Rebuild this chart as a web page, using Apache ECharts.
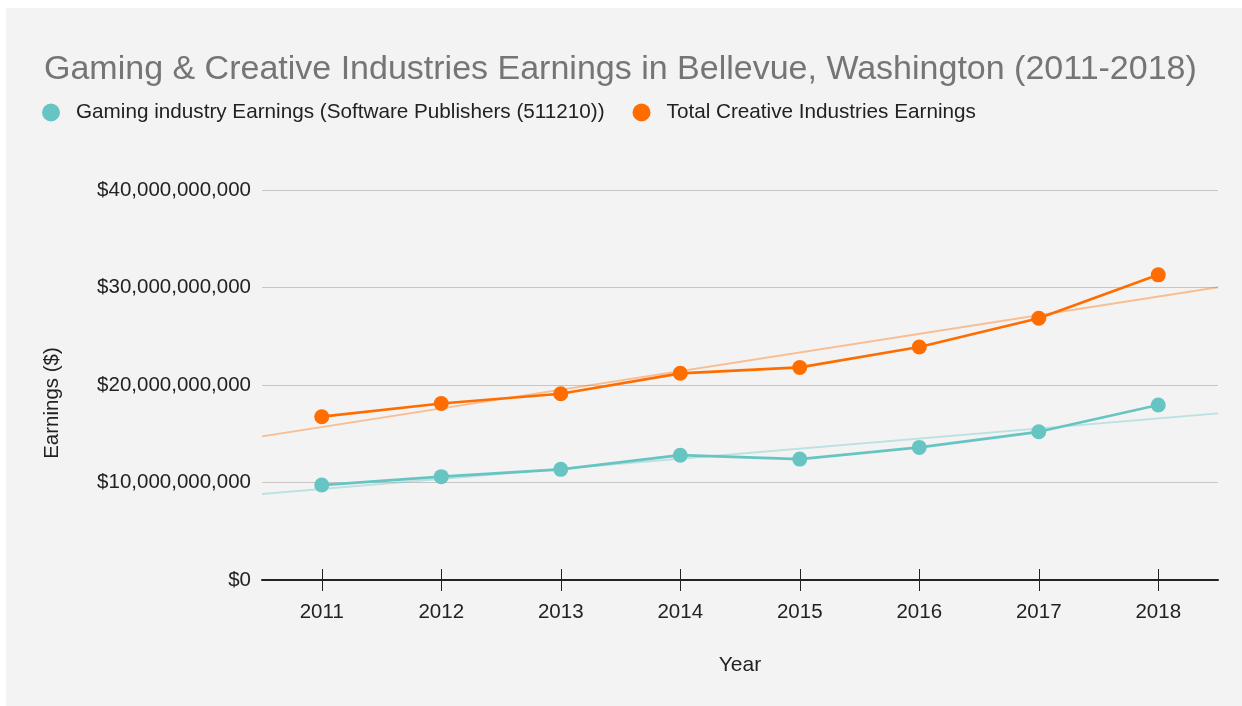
<!DOCTYPE html>
<html>
<head>
<meta charset="utf-8">
<script src="https://cdn.jsdelivr.net/npm/echarts@6/dist/echarts.min.js"></script>
<style>
    html, body { margin: 0; padding: 0; background: #ffffff; }
    #chart { position: absolute; left: 6px; top: 8px; width: 1236px; height: 698px; background: #f3f3f3; }
</style>
</head>
<body>
<div id="chart"></div>
<script>
'use strict';

// data
var years = ['2011', '2012', '2013', '2014', '2015', '2016', '2017', '2018'];
var gamingEarnings = [9.74e9, 10.6e9, 11.35e9, 12.8e9, 12.4e9, 13.6e9, 15.2e9, 17.95e9];
var creativeEarnings = [16.75e9, 18.1e9, 19.1e9, 21.2e9, 21.8e9, 23.9e9, 26.85e9, 31.3e9];
// trend line values at the left and right edges of the plot
var trendX = [2010.5, 2018.5];
var gamingTrend = [8.82e9, 17.09e9];
var creativeTrend = [14.73e9, 30.02e9];
var yTicks = [0, 10e9, 20e9, 30e9, 40e9];

var font = '"Liberation Sans", Arial, sans-serif';
var cyan = '#66c5c3';
var orange = '#ff6d01';

function pairs(xs, ys) {
    var out = [];
    for (var i = 0; i < xs.length; i++) {
        out.push([xs[i], ys[i]]);
    }
    return out;
}

var chart = echarts.init(document.getElementById('chart'));

chart.setOption({
    animation: false,
    backgroundColor: '#f3f3f3',
    textStyle: { fontFamily: font },
    title: {
        text: 'Gaming & Creative Industries Earnings in Bellevue, Washington (2011-2018)',
        left: 33,
        top: 40,
        textStyle: { fontSize: 34, fontWeight: 'normal', color: '#757575', fontFamily: font }
    },
    legend: {
        left: 31,
        top: 89,
        icon: 'circle',
        itemWidth: 18,
        itemHeight: 18,
        itemGap: 28,
        data: ['Gaming industry Earnings (Software Publishers (511210))', 'Total Creative Industries Earnings'],
        textStyle: { fontSize: 20.7, color: '#222222', fontFamily: font, padding: [0, 0, 0, 11] }
    },
    grid: { left: 256, right: 24, top: 182, bottom: 126, containLabel: false },
    xAxis: [{
        type: 'category',
        data: years,
        boundaryGap: true,
        position: 'bottom',
        name: 'Year',
        nameLocation: 'middle',
        nameGap: 75,
        nameTextStyle: { fontSize: 21, color: '#222222', fontFamily: font },
        axisLine: { show: true, lineStyle: { color: '#222222', width: 2 } },
        axisTick: { show: true, interval: 0, alignWithLabel: true, length: 11, lineStyle: { color: '#222222', width: 1 } },
        axisLabel: { fontSize: 20.5, color: '#222222', margin: 22, fontFamily: font },
        splitLine: { show: false }
    }, {
        // second copy of the category axis, only to draw the upper half of the ticks
        type: 'category',
        data: years,
        boundaryGap: true,
        position: 'bottom',
        offset: 0,
        axisLine: { show: false },
        axisTick: { show: true, interval: 0, inside: true, alignWithLabel: true, length: 11, lineStyle: { color: '#222222', width: 1 } },
        axisLabel: { show: false },
        splitLine: { show: false }
    }, {
        // hidden value axis spanning the plot edges, for the trend lines
        type: 'value',
        min: trendX[0],
        max: trendX[1],
        show: false
    }],
    yAxis: {
        type: 'value',
        min: yTicks[0],
        max: yTicks[yTicks.length - 1],
        interval: yTicks[1] - yTicks[0],
        axisLine: { show: false },
        axisTick: { show: false },
        axisLabel: {
            fontSize: 20.5,
            color: '#222222',
            margin: 11,
            fontFamily: font,
            formatter: function (v) {
                return '$' + Number(v).toLocaleString('en-US');
            }
        },
        splitLine: { lineStyle: { color: '#c6c6c6', width: 1 } }
    },
    graphic: [{
        type: 'text',
        x: 46,
        y: 395,
        rotation: Math.PI / 2,
        style: {
            text: 'Earnings ($)',
            fontSize: 20.5,
            fill: '#222222',
            fontFamily: font,
            align: 'center',
            verticalAlign: 'middle'
        }
    }],
    series: [{
        name: 'Gaming trend',
        type: 'line',
        xAxisIndex: 2,
        data: pairs(trendX, gamingTrend),
        showSymbol: false,
        silent: true,
        z: 1,
        lineStyle: { color: cyan, width: 2, opacity: 0.4 }
    }, {
        name: 'Creative trend',
        type: 'line',
        xAxisIndex: 2,
        data: pairs(trendX, creativeTrend),
        showSymbol: false,
        silent: true,
        z: 1,
        lineStyle: { color: orange, width: 2, opacity: 0.4 }
    }, {
        name: 'Gaming industry Earnings (Software Publishers (511210))',
        type: 'line',
        data: gamingEarnings,
        symbol: 'circle',
        symbolSize: 15,
        z: 3,
        itemStyle: { color: cyan },
        lineStyle: { color: cyan, width: 2.7 }
    }, {
        name: 'Total Creative Industries Earnings',
        type: 'line',
        data: creativeEarnings,
        symbol: 'circle',
        symbolSize: 15,
        z: 3,
        itemStyle: { color: orange },
        lineStyle: { color: orange, width: 2.7 }
    }]
});
</script>
</body>
</html>
